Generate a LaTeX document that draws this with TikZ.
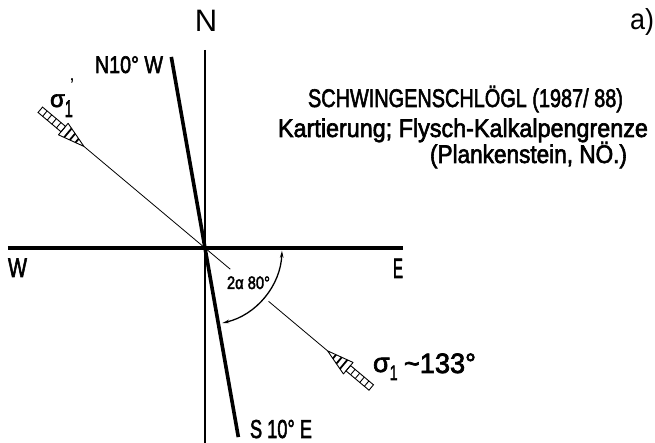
\documentclass[tikz,border=0pt]{standalone}
\usepackage{fontspec}
\setmainfont{Liberation Sans}
\newfontfamily\din{Liberation Sans}[FakeBold=2.5]
\usepackage{graphicx}
\usetikzlibrary{arrows.meta}
\newsavebox\fitbox
\newdimen\fitdim
\newcommand\fitto[2]{\sbox\fitbox{#2}\fitdim=\wd\fitbox\pgfmathsetmacro\fitf{#1/\the\fitdim}\scalebox{\fitf}[1]{\usebox\fitbox}}
\tikzset{
  lbl/.style={inner sep=0pt, outer sep=0pt, anchor=base west, font=\din},
  thinline/.style={line width=1.1pt},
  thickline/.style={line width=3.6pt},
  sigarrow/.pic={
    \draw[line width=0.9pt, line join=round] (0,0) -- (-27,7.5) -- (-27,-7.5) -- cycle;
    \foreach \x in {-9,-15,-21} {\pgfmathsetmacro\h{7.5*(-\x)/27}
      \draw[line width=1.8pt] (\x,\h) -- (\x,-\h);}
    \draw[line width=0.9pt] (-27,3.5) rectangle (-57,-3.5);
    \foreach \x in {-33,-39,-45,-51} {\draw[line width=0.9pt] (\x,3.5) -- (\x,-3.5);}
  }
}
\begin{document}
\begin{tikzpicture}[x=1pt,y=1pt]
\useasboundingbox (-205,-195) rectangle (450,248);
\coordinate (C) at (0,0);
\coordinate (vt) at (0,198); \coordinate (vb) at (0,-195);
\coordinate (hw) at (-197,0); \coordinate (he) at (198,0);
\coordinate (ft) at (100:194); \coordinate (fb) at (-80:192);
\coordinate (st) at (140:158); \coordinate (sg1) at (-40:33);
\coordinate (sg2) at (-40:83); \coordinate (sb) at (-40:160);
% thin lines
\draw[thinline] (vt) -- (vb);
\draw[line width=0.8pt] (st) -- (sg1);
\draw[line width=0.8pt] (sg2) -- (sb);
% thick lines
\draw[thickline] (hw) -- (he);
\draw[thickline] (ft) -- (fb);
% angle arc
\draw[line width=1.3pt, {Stealth[length=7pt,width=3.5pt]}-{Stealth[length=7pt,width=3.5pt]}]
  (-2:77) arc[start angle=-2, end angle=-77, radius=77];
% sigma arrows
\pic[rotate=-40] at (st) {sigarrow};
\pic[rotate=140] at (sb) {sigarrow};
% labels
\node[anchor=base, inner sep=0pt] (nl) at (1,216) {\fontsize{31}{31}\selectfont N};
\node[anchor=base west, inner sep=0pt] (al) at (425,218) {\fontsize{29}{29}\selectfont\fitto{24}{a)}};
\node[lbl] (t1) at (103,141) {\fontsize{25.5}{28}\selectfont\fitto{315}{SCHWINGENSCHLÖGL (1987/ 88)}};
\node[lbl] (t2) at (73,111) {\fontsize{25.5}{28}\selectfont\fitto{370}{Kartierung; Flysch-Kalkalpengrenze}};
\node[lbl] (t3) at (225,85) {\fontsize{25.5}{28}\selectfont\fitto{197}{(Plankenstein, NÖ.)}};
\node[lbl] (nw) at (-110,175) {\fontsize{24}{24}\selectfont\fitto{68}{N10° W}};
\node[lbl] (se) at (45,-190) {\fontsize{26}{26}\selectfont\fitto{62}{S 10° E}};
\node[lbl] (wl) at (-197,-29) {\fontsize{27}{27}\selectfont\fitto{19}{W}};
\node[lbl] (el) at (188,-30) {\fontsize{28}{28}\selectfont\fitto{10}{E}};
\node[lbl] (ang) at (22,-41) {\fontsize{18}{18}\selectfont\fitto{43}{2α 80°}};
\node[lbl] (s1) at (-155,141) {\fontsize{24}{24}\selectfont σ\raisebox{-10pt}{\fitto{8}{1}}};
\node[inner sep=0pt] (p1) at (-133,162) {\fontsize{20}{20}\selectfont ’};
\node[lbl] (s2) at (168,-124) {\fontsize{27}{27}\selectfont σ\raisebox{-8pt}{\fontsize{21}{21}\selectfont\fitto{8}{1}}};
\node[lbl] (d2) at (199,-125) {\fontsize{28}{28}\selectfont\fitto{72}{\textasciitilde133°}};
\end{tikzpicture}
\end{document}
